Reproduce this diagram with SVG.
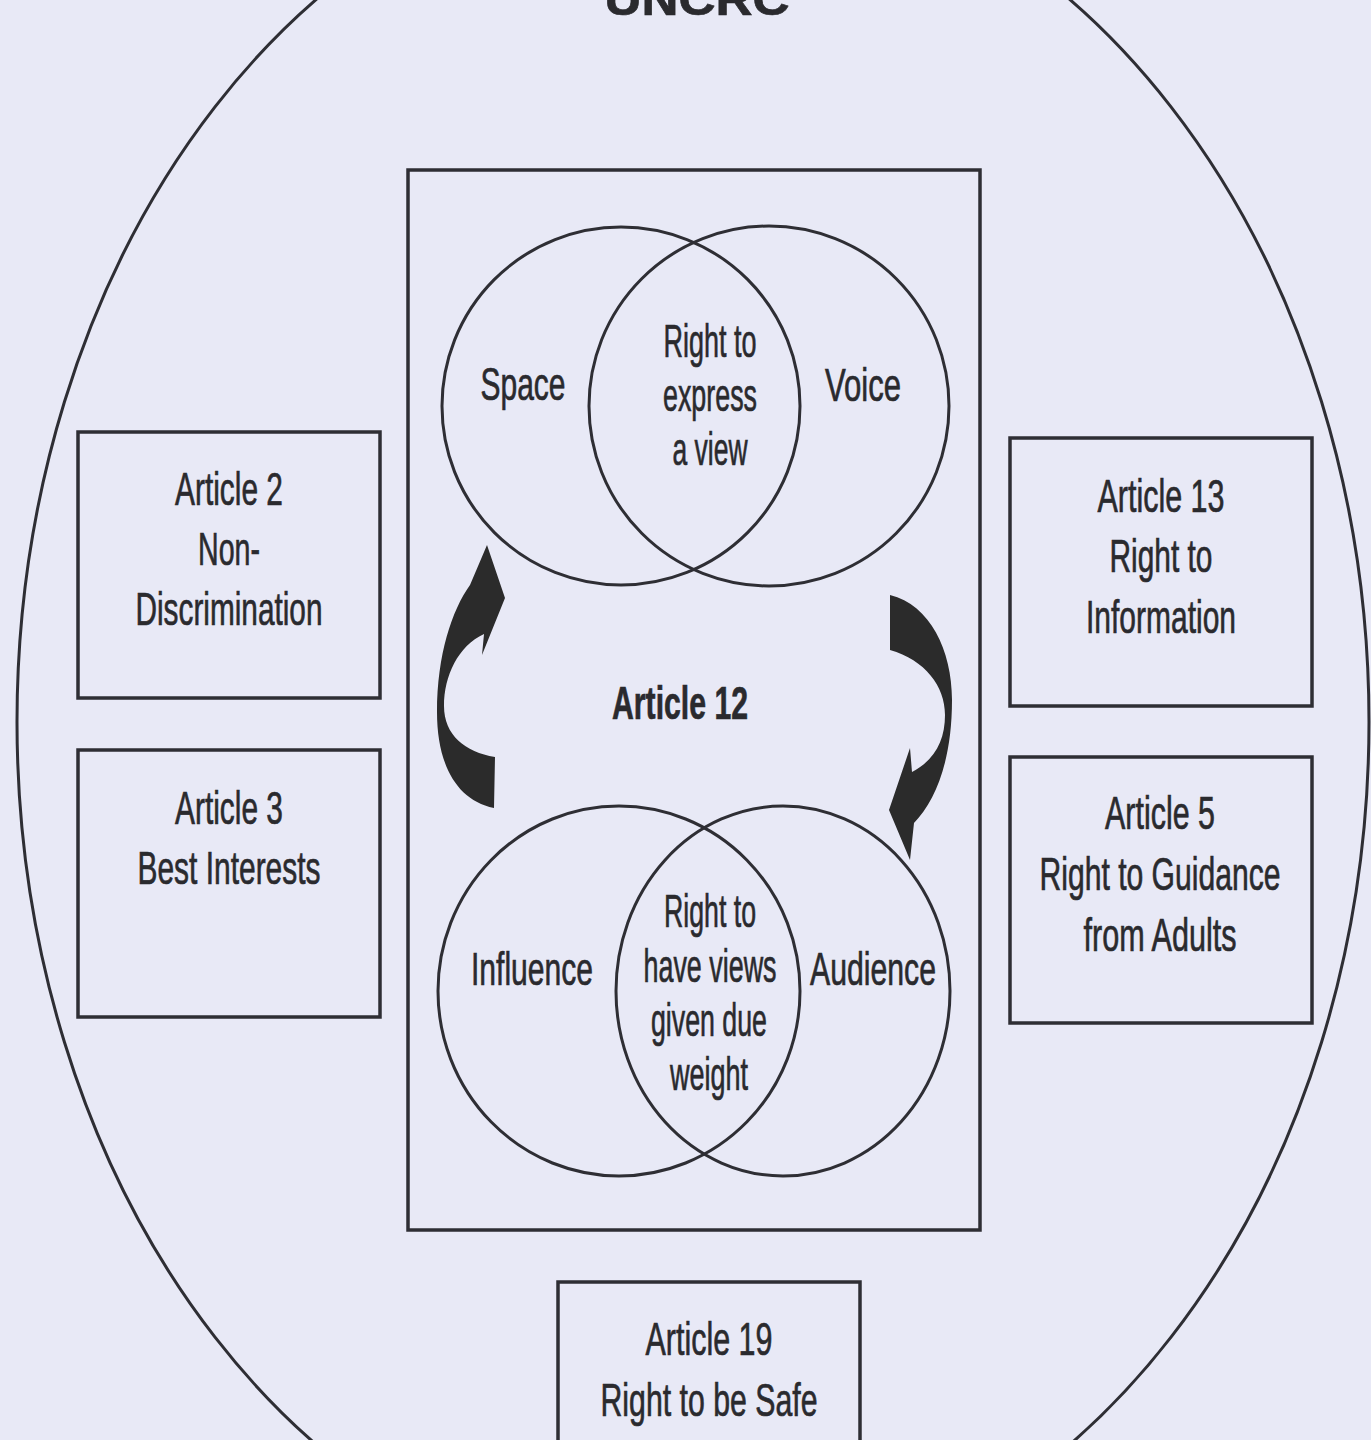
<svg xmlns="http://www.w3.org/2000/svg" width="1371" height="1440" viewBox="0 0 1371 1440">
<style>
.bg{fill:#e8e9f6}
.ln{fill:none;stroke:#2e2e34;stroke-width:3}
.box{fill:none;stroke:#2e2e34;stroke-width:3.5}
.t{font-family:"Liberation Sans",Arial,sans-serif;font-size:47px;fill:#2a2a2e;stroke:#2a2a2e;stroke-width:0.7;text-anchor:middle}
.b{font-weight:bold}
.arr{fill:#2b2b2b}
</style>
<rect class="bg" x="0" y="0" width="1371" height="1440"/>
<g id="outer">
<ellipse class="ln" cx="693" cy="722" rx="676" ry="870"/>
</g>
<g id="title">
<text class="t b" x="697" y="15" font-size="62" textLength="185" lengthAdjust="spacingAndGlyphs">UNCRC</text>
</g>
<g id="article12">
<rect class="box" x="408" y="170" width="572" height="1060"/>
<text class="t b" x="680" y="719" textLength="136" lengthAdjust="spacingAndGlyphs">Article 12</text>
</g>
<g id="venn-top">
<circle class="ln" cx="621" cy="406" r="179"/>
<circle class="ln" cx="769" cy="406" r="180"/>
<text class="t" x="523" y="400" textLength="85" lengthAdjust="spacingAndGlyphs">Space</text>
<text class="t" x="863" y="401" textLength="76" lengthAdjust="spacingAndGlyphs">Voice</text>
<text class="t" x="710" y="357" textLength="93" lengthAdjust="spacingAndGlyphs">Right to</text>
<text class="t" x="710" y="411" textLength="94" lengthAdjust="spacingAndGlyphs">express</text>
<text class="t" x="710" y="465" textLength="75" lengthAdjust="spacingAndGlyphs">a view</text>
</g>
<g id="venn-bottom">
<ellipse class="ln" cx="619" cy="991" rx="181" ry="185"/>
<ellipse class="ln" cx="783" cy="991" rx="167" ry="185"/>
<text class="t" x="532" y="985" textLength="122" lengthAdjust="spacingAndGlyphs">Influence</text>
<text class="t" x="873" y="985" textLength="126" lengthAdjust="spacingAndGlyphs">Audience</text>
<text class="t" x="710" y="927" textLength="92" lengthAdjust="spacingAndGlyphs">Right to</text>
<text class="t" x="710" y="982" textLength="133" lengthAdjust="spacingAndGlyphs">have views</text>
<text class="t" x="709" y="1036" textLength="116" lengthAdjust="spacingAndGlyphs">given due</text>
<text class="t" x="709" y="1090" textLength="78" lengthAdjust="spacingAndGlyphs">weight</text>
</g>
<g id="connectors">
<path class="arr" d="M487,545 L505,598 L482,655 L484,634 C458,646 444,676 444,706 C444,735 465,752 495,757 L494,808 C455,800 437,762 437,712 C437,655 452,610 470,585 Z"/>
<path class="arr" d="M890,595 C930,605 952,650 952,700 C952,760 936,800 914,823 L910,860 L889,810 L910,748 L912,772 C935,760 945,740 945,715 C945,686 925,660 890,650 Z"/>
</g>
<g id="art2">
<rect class="box" x="78" y="432" width="302" height="266"/>
<text class="t" x="229" y="505" textLength="108" lengthAdjust="spacingAndGlyphs">Article 2</text>
<text class="t" x="229" y="565" textLength="62" lengthAdjust="spacingAndGlyphs">Non-</text>
<text class="t" x="229" y="625" textLength="187" lengthAdjust="spacingAndGlyphs">Discrimination</text>
</g>
<g id="art3">
<rect class="box" x="78" y="750" width="302" height="267"/>
<text class="t" x="229" y="824" textLength="108" lengthAdjust="spacingAndGlyphs">Article 3</text>
<text class="t" x="229" y="884" textLength="183" lengthAdjust="spacingAndGlyphs">Best Interests</text>
</g>
<g id="art13">
<rect class="box" x="1010" y="438" width="302" height="268"/>
<text class="t" x="1161" y="512" textLength="127" lengthAdjust="spacingAndGlyphs">Article 13</text>
<text class="t" x="1161" y="572" textLength="103" lengthAdjust="spacingAndGlyphs">Right to</text>
<text class="t" x="1161" y="633" textLength="150" lengthAdjust="spacingAndGlyphs">Information</text>
</g>
<g id="art5">
<rect class="box" x="1010" y="757" width="302" height="266"/>
<text class="t" x="1160" y="829" textLength="110" lengthAdjust="spacingAndGlyphs">Article 5</text>
<text class="t" x="1160" y="890" textLength="241" lengthAdjust="spacingAndGlyphs">Right to Guidance</text>
<text class="t" x="1160" y="951" textLength="153" lengthAdjust="spacingAndGlyphs">from Adults</text>
</g>
<g id="art19">
<rect class="box" x="558" y="1282" width="302" height="200"/>
<text class="t" x="709" y="1355" textLength="127" lengthAdjust="spacingAndGlyphs">Article 19</text>
<text class="t" x="709" y="1416" textLength="217" lengthAdjust="spacingAndGlyphs">Right to be Safe</text>
</g>
</svg>
